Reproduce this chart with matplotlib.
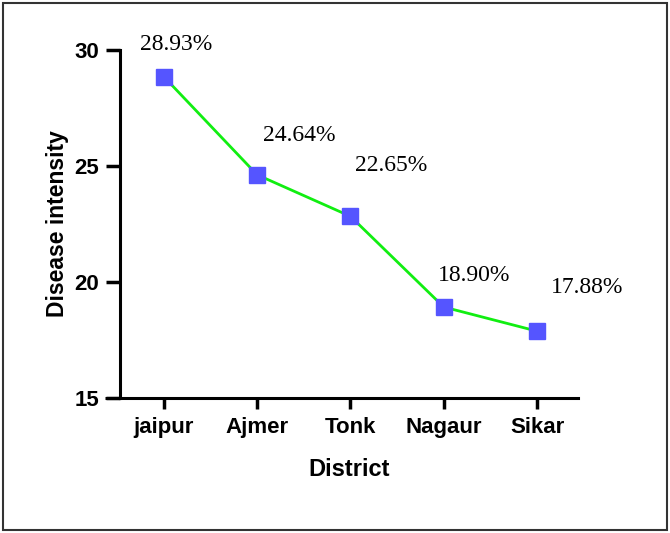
import matplotlib.pyplot as plt
from matplotlib.patches import Rectangle

districts = ["jaipur", "Ajmer", "Tonk", "Nagaur", "Sikar"]
intensity = [28.85, 24.62, 22.83, 18.92, 17.88]
labels = ["28.93%", "24.64%", "22.65%", "18.90%", "17.88%"]
y_ticks = [15, 20, 25, 30]

# where each percentage label sits relative to its marker (points)
label_offsets = [(9, 23.5), (30, 28.5), (29, 36.5), (22, 22.5), (36, 31.5)]


def main():
    fig = plt.figure(figsize=(6.7, 5.33), dpi=100)
    ax = fig.add_axes([0.179, 0.2533, 0.684, 0.6529])

    x = list(range(len(districts)))
    ax.plot(x, intensity, color="#11ee11", lw=2,
            marker="s", ms=11, mfc="#5555ff", mec="#5555ff", zorder=3)

    for xi, yi, lab, off in zip(x, intensity, labels, label_offsets):
        ax.annotate(lab, (xi, yi), xytext=off, textcoords="offset points",
                    ha="center", va="center", fontsize=17,
                    family="Liberation Serif")

    ax.set_xlim(-0.47, 4.44)
    ax.set_ylim(15, 30)
    ax.set_xticks(x)
    ax.set_xticklabels(districts)
    ax.set_yticks(y_ticks)

    for side in ("top", "right"):
        ax.spines[side].set_visible(False)
    for side in ("left", "bottom"):
        ax.spines[side].set_linewidth(2.2)

    # Prism style: x axis line runs out under the y ticks
    ax.plot([-0.47 - 15 / 93.25, -0.47], [15, 15], color="black", lw=2.2,
            clip_on=False, solid_capstyle="butt")

    ax.tick_params(axis="y", length=10, width=2.5, pad=5)
    ax.tick_params(axis="x", length=8, width=2.5, pad=6)
    for t in ax.get_xticklabels() + ax.get_yticklabels():
        t.set_fontsize(16)
        t.set_fontweight("bold")
        t.set_family("Liberation Sans")

    ax.set_xlabel("District", fontsize=17, fontweight="bold",
                  family="Liberation Sans", labelpad=14)
    ax.set_ylabel("Disease intensity", fontsize=16.5, fontweight="bold",
                  family="Liberation Sans", labelpad=4)

    fig.patches.append(Rectangle((0.005, 0.005), 0.99, 0.99,
                                 transform=fig.transFigure, fill=False,
                                 edgecolor="#333333", lw=1.5))

    fig.savefig("out.png", dpi=100)


if __name__ == "__main__":
    main()
